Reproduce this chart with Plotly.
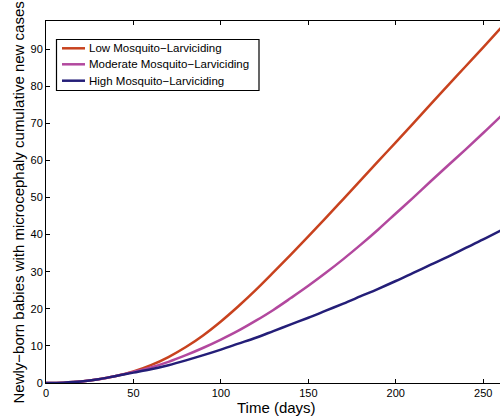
import plotly.graph_objects as go

days = [0, 10, 20, 30, 40, 50, 60, 70, 80, 90, 100, 110, 120, 130, 140, 150, 160,
        170, 180, 190, 200, 210, 220, 230, 240, 250, 260]
low = [0, 0.1, 0.4, 1.0, 1.9, 3.1, 4.8, 7.0, 9.7, 12.9, 16.6, 20.7, 25.1, 29.8, 34.6,
       39.5, 44.5, 49.6, 54.7, 59.8, 64.9, 70.0, 75.2, 80.3, 85.4, 90.5, 95.7]
moderate = [0, 0.1, 0.4, 1.0, 1.9, 3.0, 4.2, 5.7, 7.5, 9.5, 11.7, 14.1, 16.8, 19.7, 22.9,
            26.2, 29.7, 33.4, 37.3, 41.4, 45.7, 50.0, 54.4, 58.7, 63.0, 67.4, 71.9]
high = [0, 0.1, 0.4, 1.0, 1.9, 2.8, 3.7, 4.8, 6.1, 7.5, 9.0, 10.6, 12.2, 14.0, 15.8,
        17.6, 19.5, 21.4, 23.4, 25.4, 27.5, 29.7, 31.9, 34.1, 36.4, 38.7, 41.1]
names = ["Low Mosquito\u2212Larviciding", "Moderate Mosquito\u2212Larviciding",
         "High Mosquito\u2212Larviciding"]
colors = ["rgb(200,66,30)", "rgb(178,72,158)", "rgb(36,30,120)"]

font = "Liberation Sans, Arial, Helvetica, sans-serif"
W, H = 500, 418
L, R, T, B = 46, 0, 21, 35
pw, ph = W - L - R, H - T - B


def px(x):
    return (x - L) / pw


def py(y):
    return (H - B - y) / ph


fig = go.Figure()
for ys, nm, c in zip([low, moderate, high], names, colors):
    fig.add_trace(go.Scatter(x=days, y=ys, mode="lines", name=nm, showlegend=False,
                             line=dict(color=c, width=2.5, shape="spline")))

shapes = [dict(type="rect", xref="paper", yref="paper",
               x0=px(56.5), x1=px(259), y0=py(39.5), y1=py(90.5),
               line=dict(color="black", width=1.2), fillcolor="white", layer="above")]
annotations = []
for i, (nm, c) in enumerate(zip(names, colors)):
    yy = [48.3, 64.3, 80.7][i]
    shapes.append(dict(type="line", xref="paper", yref="paper",
                       x0=px(62), x1=px(85), y0=py(yy), y1=py(yy),
                       line=dict(color=c, width=2.5), layer="above"))
    annotations.append(dict(text=nm, xref="paper", yref="paper", x=px(87),
                            y=py(yy), xanchor="left", yanchor="middle",
                            showarrow=False, font=dict(size=11.5, color="black")))

annotations.append(dict(text="Time (days)", xref="paper", yref="paper",
                        x=px(276), y=py(407), xanchor="center", yanchor="middle",
                        showarrow=False, font=dict(size=15, color="black")))
annotations.append(dict(text="Newly\u2212born babies with microcephaly cumulative new cases",
                        xref="paper", yref="paper", x=px(18), y=py(202.5),
                        xanchor="center", yanchor="middle", textangle=-90,
                        showarrow=False, font=dict(size=15, color="black")))

fig.update_layout(
    width=W, height=H,
    margin=dict(l=L, r=R, t=T, b=B),
    paper_bgcolor="white", plot_bgcolor="white",
    font=dict(family=font, size=11, color="black"),
    showlegend=False,
    shapes=shapes, annotations=annotations,
    xaxis=dict(range=[0, 259.6], tickvals=[0, 50, 100, 150, 200, 250],
               ticks="inside", ticklen=4, tickcolor="black",
               showline=True, linecolor="black", linewidth=1, mirror="ticks",
               showgrid=False, zeroline=False, automargin=False,
               tickfont=dict(size=11)),
    yaxis=dict(range=[0, 97.6], tickvals=list(range(0, 100, 10)),
               ticks="inside", ticklen=4, tickcolor="black",
               showline=True, linecolor="black", linewidth=1, mirror=False,
               showgrid=False, zeroline=False, automargin=False,
               tickfont=dict(size=11)),
)
fig.write_html("out.html", config={"displayModeBar": False},
               post_script="document.body.style.margin='0';document.body.style.overflow='hidden';")
